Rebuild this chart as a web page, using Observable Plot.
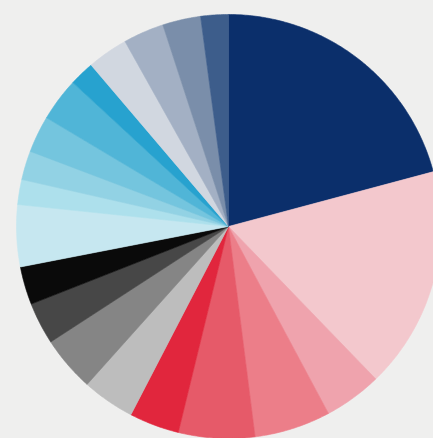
<!DOCTYPE html>
<html>
<head>
<meta charset="utf-8">
<script src="https://cdn.jsdelivr.net/npm/d3@7"></script>
<script src="https://cdn.jsdelivr.net/npm/@observablehq/plot@0.6"></script>
<style>
  html, body { margin: 0; padding: 0; background: #efefee; overflow: hidden; }
  #chart svg { display: block; filter: blur(0.6px); }
</style>
</head>
<body>
<div id="chart"></div>
<script>
// Slices, clockwise from 12 o'clock (shares in percent)
const categories = [
  "Navy", "Pale pink", "Pink", "Salmon", "Coral", "Red",
  "Light grey", "Mid grey", "Dark grey", "Black",
  "Blue 1", "Blue 2", "Blue 3", "Blue 4", "Blue 5", "Blue 6",
  "Slate 1", "Slate 2", "Slate 3", "Slate 4"
];
const values = [
  20.8, 16.9, 4.4, 5.8, 5.8, 3.8,
  4.0, 4.2, 3.2, 2.9,
  4.7, 1.9, 2.2, 2.8, 3.3, 1.9,
  3.1, 3.1, 2.9, 2.1
];
const colors = [
  "#0b2f6b", "#f3c8cd", "#efa3ad", "#ec7e89", "#e65a69", "#e1263d",
  "#bdbdbd", "#858585", "#474747", "#0a0a0a",
  "#c6e7f0", "#ade0ec", "#92d2e4", "#74c5de", "#50b5d7", "#27a2cf",
  "#d1d7e0", "#a3b0c4", "#7a8eaa", "#3d5d8b"
];

// Build polygon outlines of each wedge from the cumulative shares
const total = d3.sum(values);
const pts = [];
let acc = 0;
categories.forEach((c, i) => {
  const a0 = acc / total * 2 * Math.PI;
  acc += values[i];
  const a1 = acc / total * 2 * Math.PI;
  pts.push({cat: c, x: 0, y: 0});
  const n = Math.max(2, Math.ceil((a1 - a0) / 0.01));
  for (let k = 0; k <= n; k++) {
    const a = a0 + (a1 - a0) * k / n;
    pts.push({cat: c, x: Math.sin(a), y: Math.cos(a)});
  }
  pts.push({cat: c, x: 0, y: 0});
});

const chart = Plot.plot({
  width: 433,
  height: 438,
  margin: 0,
  style: {background: "#efefee"},
  x: {domain: [-1.0755, 0.967], axis: null},
  y: {domain: [-1.0, 1.066], axis: null},
  color: {domain: categories, range: colors},
  marks: [
    Plot.line(pts, {x: "x", y: "y", z: "cat", fill: "cat", stroke: "cat", strokeWidth: 0.6, curve: "linear"})
  ]
});
document.getElementById("chart").appendChild(chart);
</script>
</body>
</html>
